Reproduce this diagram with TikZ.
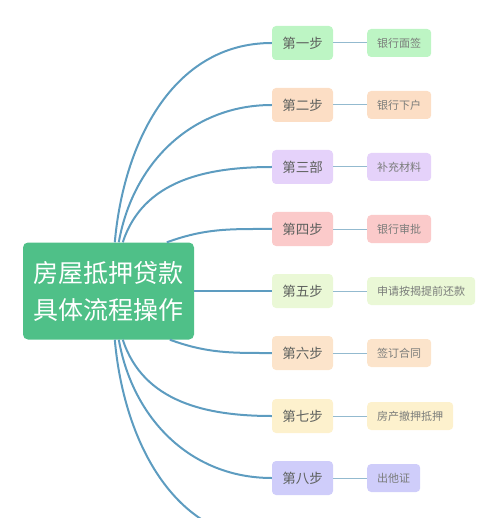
\documentclass[tikz,border=0pt]{standalone}
\usepackage{fontspec}
\setmainfont{Noto Sans CJK SC}
\usetikzlibrary{calc}
\definecolor{rootgreen}{HTML}{4FC088}
\definecolor{branchblue}{HTML}{5D9CC0}
\definecolor{twigblue}{HTML}{93BACF}
\definecolor{stepgray}{HTML}{5E615E}
\definecolor{notegray}{HTML}{7A7C7A}
\definecolor{cA}{HTML}{BDF5C4}
\definecolor{cB}{HTML}{FCDEC5}
\definecolor{cC}{HTML}{E5D2FA}
\definecolor{cD}{HTML}{FBCACA}
\definecolor{cE}{HTML}{EAF8D6}
\definecolor{cF}{HTML}{FCE4CB}
\definecolor{cG}{HTML}{FDF1CD}
\definecolor{cH}{HTML}{CFCDFA}

\tikzset{
	rootbox/.style={fill=rootgreen, rounded corners=5pt, minimum width=171pt, minimum height=97pt, inner sep=0pt, align=center, text=white, font=\fontsize{25}{37}\selectfont},
	stepbox/.style={rounded corners=4pt, minimum width=61pt, minimum height=34pt, inner sep=0pt, text=stepgray, font=\fontsize{13.5}{15}\selectfont},
	notebox/.style={rounded corners=4pt, minimum height=28pt, inner xsep=10pt, inner ysep=0pt, anchor=west, text=notegray, font=\fontsize{11}{13}\selectfont},
	branch/.style={draw=branchblue, line width=2pt},
	twig/.style={draw=twigblue, line width=1pt}
}

\begin{document}
\begin{tikzpicture}[x=1pt,y=-1pt]
		\useasboundingbox (0,0) rectangle (500,518);
		\clip (0,0) rectangle (500,518);
		
		\node[rootbox] (root) at (108.5,291) {房屋抵押贷款\\具体流程操作};
		
		\node[stepbox,fill=cA] (s1) at (302.5,43) {第一步};
		\node[stepbox,fill=cB] (s2) at (302.5,105) {第二步};
		\node[stepbox,fill=cC] (s3) at (302.5,167) {第三部};
		\node[stepbox,fill=cD] (s4) at (302.5,229) {第四步};
		\node[stepbox,fill=cE] (s5) at (302.5,291) {第五步};
		\node[stepbox,fill=cF] (s6) at (302.5,353) {第六步};
		\node[stepbox,fill=cG] (s7) at (302.5,416) {第七步};
		\node[stepbox,fill=cH] (s8) at (302.5,478) {第八步};
		\coordinate (s9) at (272,540);
		
		\node[notebox,fill=cA] (n1) at (367,43) {银行面签};
		\node[notebox,fill=cB] (n2) at (367,105) {银行下户};
		\node[notebox,fill=cC] (n3) at (367,167) {补充材料};
		\node[notebox,fill=cD] (n4) at (367,229) {银行审批};
		\node[notebox,fill=cE] (n5) at (367,291) {申请按揭提前还款};
		\node[notebox,fill=cF] (n6) at (367,353) {签订合同};
		\node[notebox,fill=cG] (n7) at (367,416) {房产撤押抵押};
		\node[notebox,fill=cH] (n8) at (367,478) {出他证};
		
		% branches from the root
		\draw[branch] ([xshift=92pt]root.north west) to[out=85,in=180] (s1.west);
		\draw[branch] ([xshift=96pt]root.north west) to[out=80,in=180] (s2.west);
		\draw[branch] ([xshift=100pt]root.north west) to[out=72,in=180] (s3.west);
		\draw[branch] ([xshift=144pt]root.north west) to[out=20,in=180] (s4.west);
		\draw[branch] (root.east) -- (s5.west);
		\draw[branch] ([xshift=147pt]root.south west) to[out=-20,in=180] (s6.west);
		\draw[branch] ([xshift=100pt]root.south west) to[out=-72,in=180] (s7.west);
		\draw[branch] ([xshift=96pt]root.south west) to[out=-80,in=180] (s8.west);
		\draw[branch] ([xshift=92pt]root.south west) to[out=-85,in=180] (s9);
		
		% steps to notes
		\draw[twig] (s1) -- (n1);
		\draw[twig] (s2) -- (n2);
		\draw[twig] (s3) -- (n3);
		\draw[twig] (s4) -- (n4);
		\draw[twig] (s5) -- (n5);
		\draw[twig] (s6) -- (n6);
		\draw[twig] (s7) -- (n7);
		\draw[twig] (s8) -- (n8);
		
	\end{tikzpicture}
\end{document}
